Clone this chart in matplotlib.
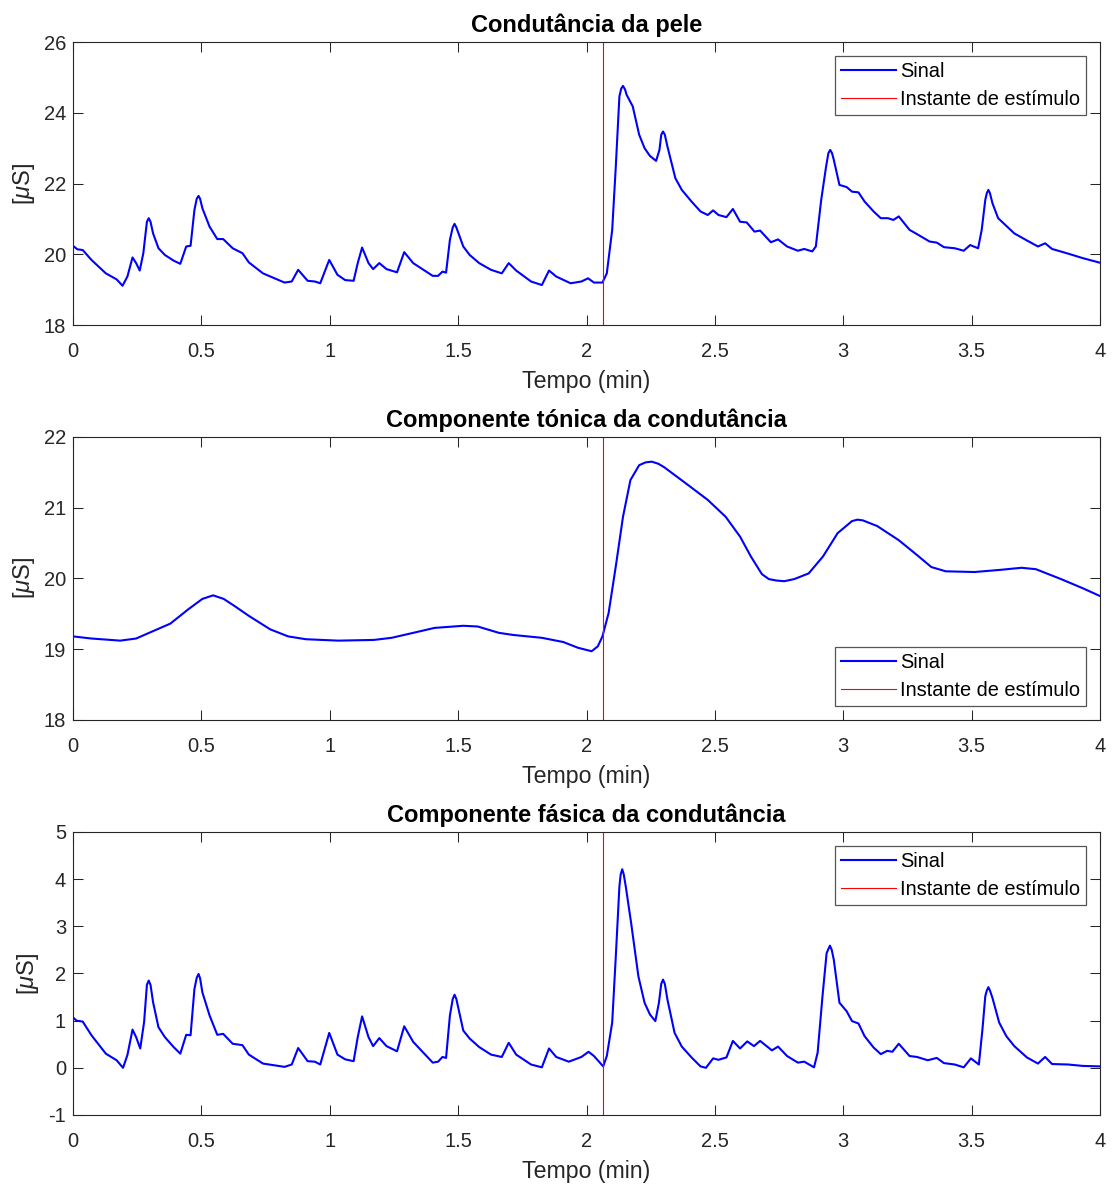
import matplotlib.pyplot as plt
import numpy as np

# Condutância da pele
t_pele = [0, 0.017, 0.038, 0.072, 0.128, 0.17, 0.193, 0.212, 0.232, 0.246,
          0.26, 0.274, 0.288, 0.295, 0.302, 0.312, 0.333, 0.358, 0.392, 0.418,
          0.441, 0.458, 0.473, 0.482, 0.489, 0.495, 0.504, 0.532, 0.562, 0.585,
          0.622, 0.66, 0.685, 0.74, 0.824, 0.852, 0.877, 0.914, 0.942, 0.963,
          0.998, 1.03, 1.06, 1.093, 1.109, 1.126, 1.151, 1.169, 1.193, 1.221,
          1.262, 1.29, 1.325, 1.401, 1.422, 1.439, 1.453, 1.468, 1.479, 1.486,
          1.493, 1.52, 1.545, 1.582, 1.628, 1.67, 1.697, 1.726, 1.784, 1.826,
          1.854, 1.882, 1.938, 1.98, 2.006, 2.029, 2.062, 2.079, 2.10, 2.114,
          2.128, 2.135, 2.142, 2.15, 2.156, 2.18, 2.205, 2.226, 2.247, 2.271,
          2.284, 2.291, 2.298, 2.305, 2.315, 2.346, 2.371, 2.409, 2.444, 2.472,
          2.493, 2.514, 2.545, 2.57, 2.598, 2.624, 2.654, 2.676, 2.718, 2.746,
          2.781, 2.823, 2.848, 2.879, 2.893, 2.914, 2.933, 2.942, 2.949, 2.956,
          2.963, 2.985, 3.013, 3.034, 3.059, 3.083, 3.118, 3.146, 3.174, 3.195,
          3.216, 3.258, 3.287, 3.336, 3.364, 3.392, 3.434, 3.469, 3.494, 3.525,
          3.539, 3.553, 3.559, 3.565, 3.571, 3.581, 3.603, 3.635, 3.666, 3.715,
          3.758, 3.786, 3.813, 3.87, 3.933, 4.0]
sc_pele = [20.24, 20.14, 20.12, 19.84, 19.46, 19.29, 19.11, 19.37, 19.91, 19.75,
           19.54, 20.03, 20.92, 21.02, 20.92, 20.59, 20.17, 19.98, 19.82, 19.73,
           20.22, 20.24, 21.25, 21.57, 21.65, 21.57, 21.30, 20.78, 20.43, 20.43,
           20.17, 20.03, 19.77, 19.46, 19.20, 19.23, 19.56, 19.25, 19.23, 19.18,
           19.84, 19.42, 19.27, 19.25, 19.75, 20.19, 19.75, 19.58, 19.75, 19.58,
           19.49, 20.06, 19.75, 19.39, 19.39, 19.51, 19.48, 20.41, 20.76, 20.86,
           20.76, 20.22, 19.98, 19.75, 19.56, 19.46, 19.75, 19.54, 19.23, 19.13,
           19.54, 19.37, 19.18, 19.23, 19.32, 19.20, 19.20, 19.46, 20.69, 22.48,
           24.46, 24.68, 24.76, 24.66, 24.51, 24.18, 23.38, 23.0, 22.78, 22.64,
           22.95, 23.38, 23.47, 23.38, 23.05, 22.15, 21.82, 21.49, 21.21, 21.11,
           21.24, 21.11, 21.05, 21.28, 20.92, 20.90, 20.64, 20.67, 20.34, 20.42,
           20.22, 20.10, 20.15, 20.08, 20.22, 21.54, 22.48, 22.86, 22.95, 22.86,
           22.67, 21.96, 21.90, 21.77, 21.75, 21.49, 21.21, 21.02, 21.02, 20.97,
           21.07, 20.69, 20.57, 20.36, 20.33, 20.20, 20.17, 20.10, 20.26, 20.17,
           20.69, 21.54, 21.73, 21.82, 21.73, 21.44, 21.02, 20.80, 20.59, 20.39,
           20.22, 20.31, 20.15, 20.03, 19.89, 19.76]

# Componente tónica
t_tonica = [0, 0.072, 0.184, 0.246, 0.309, 0.379, 0.448, 0.504, 0.546, 0.587,
            0.629, 0.685, 0.768, 0.838, 0.907, 1.033, 1.172, 1.241, 1.325, 1.408,
            1.52, 1.576, 1.659, 1.715, 1.826, 1.91, 1.966, 2.02, 2.044, 2.062,
            2.086, 2.114, 2.142, 2.171, 2.205, 2.23, 2.254, 2.28, 2.303, 2.388,
            2.472, 2.542, 2.598, 2.64, 2.683, 2.71, 2.739, 2.77, 2.809, 2.865,
            2.921, 2.978, 3.034, 3.055, 3.076, 3.132, 3.216, 3.287, 3.343, 3.399,
            3.511, 3.61, 3.694, 3.75, 3.848, 3.933, 4.0]
sc_tonica = [19.18, 19.15, 19.12, 19.15, 19.25, 19.36, 19.56, 19.71, 19.76, 19.71,
             19.61, 19.47, 19.28, 19.18, 19.14, 19.12, 19.13, 19.16, 19.23, 19.30,
             19.33, 19.32, 19.23, 19.20, 19.16, 19.10, 19.02, 18.97, 19.04, 19.18,
             19.51, 20.17, 20.87, 21.39, 21.60, 21.64, 21.65, 21.62, 21.57, 21.34,
             21.11, 20.87, 20.59, 20.31, 20.06, 19.99, 19.97, 19.96, 19.99, 20.07,
             20.31, 20.64, 20.81, 20.83, 20.82, 20.74, 20.54, 20.33, 20.16, 20.10,
             20.09, 20.12, 20.15, 20.13, 19.99, 19.86, 19.75]

# Componente fásica
t_fasica = [0, 0.014, 0.038, 0.072, 0.128, 0.17, 0.195, 0.212, 0.232, 0.246,
            0.262, 0.277, 0.288, 0.295, 0.302, 0.312, 0.333, 0.358, 0.392, 0.418,
            0.441, 0.458, 0.473, 0.482, 0.489, 0.495, 0.504, 0.532, 0.562, 0.585,
            0.622, 0.66, 0.685, 0.74, 0.824, 0.852, 0.877, 0.914, 0.942, 0.963,
            0.998, 1.03, 1.06, 1.093, 1.109, 1.126, 1.151, 1.169, 1.193, 1.221,
            1.262, 1.29, 1.325, 1.401, 1.422, 1.439, 1.453, 1.468, 1.479, 1.486,
            1.493, 1.52, 1.545, 1.582, 1.628, 1.67, 1.697, 1.726, 1.784, 1.826,
            1.854, 1.882, 1.931, 1.98, 2.008, 2.029, 2.065, 2.079, 2.10, 2.114,
            2.128, 2.133, 2.139, 2.145, 2.153, 2.174, 2.202, 2.226, 2.247, 2.268,
            2.282, 2.291, 2.298, 2.305, 2.315, 2.343, 2.371, 2.409, 2.444, 2.465,
            2.493, 2.514, 2.545, 2.57, 2.598, 2.626, 2.652, 2.676, 2.722, 2.746,
            2.781, 2.823, 2.848, 2.886, 2.90, 2.919, 2.935, 2.942, 2.948, 2.955,
            2.963, 2.985, 3.013, 3.034, 3.059, 3.083, 3.118, 3.146, 3.171, 3.191,
            3.216, 3.258, 3.287, 3.329, 3.364, 3.392, 3.434, 3.469, 3.497, 3.528,
            3.542, 3.553, 3.559, 3.565, 3.571, 3.581, 3.607, 3.635, 3.666, 3.715,
            3.758, 3.786, 3.813, 3.876, 3.933, 4.0]
sc_fasica = [1.07, 1.0, 0.98, 0.69, 0.30, 0.16, 0.0, 0.27, 0.81, 0.65,
             0.41, 0.97, 1.76, 1.85, 1.76, 1.39, 0.86, 0.65, 0.44, 0.30,
             0.70, 0.69, 1.67, 1.91, 1.99, 1.90, 1.60, 1.11, 0.70, 0.72,
             0.51, 0.48, 0.28, 0.09, 0.02, 0.07, 0.42, 0.14, 0.13, 0.07,
             0.74, 0.28, 0.18, 0.14, 0.65, 1.09, 0.65, 0.46, 0.63, 0.46,
             0.35, 0.88, 0.55, 0.11, 0.13, 0.23, 0.21, 1.11, 1.46, 1.55,
             1.46, 0.79, 0.62, 0.44, 0.28, 0.23, 0.53, 0.28, 0.07, 0.01,
             0.41, 0.23, 0.13, 0.23, 0.34, 0.25, 0.03, 0.25, 0.96, 2.36,
             3.84, 4.10, 4.21, 4.10, 3.84, 3.06, 1.94, 1.38, 1.13, 0.99,
             1.38, 1.78, 1.87, 1.78, 1.45, 0.74, 0.45, 0.22, 0.03, 0.0,
             0.20, 0.17, 0.22, 0.57, 0.41, 0.56, 0.46, 0.57, 0.37, 0.45,
             0.25, 0.11, 0.13, 0.01, 0.32, 1.52, 2.43, 2.52, 2.59, 2.50,
             2.29, 1.38, 1.20, 0.99, 0.94, 0.67, 0.43, 0.29, 0.36, 0.34,
             0.51, 0.25, 0.23, 0.16, 0.21, 0.10, 0.07, 0.01, 0.20, 0.07,
             0.82, 1.52, 1.64, 1.71, 1.64, 1.48, 0.96, 0.67, 0.46, 0.22,
             0.09, 0.23, 0.08, 0.07, 0.04, 0.03]

t_estimulo = 2.066
titulos = ["Condutância da pele", "Componente tónica da condutância",
           "Componente fásica da condutância"]
ylims = [(18, 26), (18, 22), (-1, 5)]
legend_locs = ["upper right", "lower right", "upper right"]

plt.rcParams['font.family'] = ['Liberation Sans', 'DejaVu Sans']
plt.rcParams['mathtext.fontset'] = 'custom'
plt.rcParams['mathtext.rm'] = 'Liberation Sans'
plt.rcParams['mathtext.it'] = 'Liberation Sans:italic'
plt.rcParams['axes.unicode_minus'] = False

grey = '#262626'
fig = plt.figure(figsize=(11.14, 11.84), dpi=100)
bottoms = [0.7255, 0.392, 0.0583]
series = [(t_pele, sc_pele), (t_tonica, sc_tonica), (t_fasica, sc_fasica)]

for i in range(3):
    ax = fig.add_axes([0.0655, bottoms[i], 0.922, 0.239])
    t, v = series[i]
    ax.plot(t, v, color='#0000FF', linewidth=1.5, label='Sinal')
    ax.axvline(t_estimulo, color='#FF0000', linewidth=0.8, label='Instante de estímulo')
    ax.set_xlim(0, 4)
    ax.set_ylim(*ylims[i])
    ax.set_xticks(np.arange(0, 4.01, 0.5))
    ax.set_xticklabels(['0', '0.5', '1', '1.5', '2', '2.5', '3', '3.5', '4'])
    ax.tick_params(direction='in', length=7, width=0.75, top=True, right=True,
                   labelsize=14.5, colors=grey, labelcolor=grey)
    ax.tick_params(axis='x', pad=12)
    ax.tick_params(axis='y', pad=5)
    for s in ax.spines.values():
        s.set_color(grey)
        s.set_linewidth(0.8)
    ax.set_title(titulos[i], fontsize=17, fontweight='bold', pad=7)
    ax.set_xlabel('Tempo (min)', fontsize=16.7, color=grey, labelpad=7)
    ax.set_ylabel(r'[$\mu$S]', fontsize=17, color=grey, labelpad=5)
    leg = ax.legend(loc=legend_locs[i], fontsize=14.4, fancybox=False, framealpha=1,
                    edgecolor='#555555', borderaxespad=0.7, handlelength=2.75,
                    handletextpad=0.2, borderpad=0.3, labelspacing=0.45)
    leg.get_frame().set_linewidth(0.9)

fig.savefig('out.png', dpi=100)
